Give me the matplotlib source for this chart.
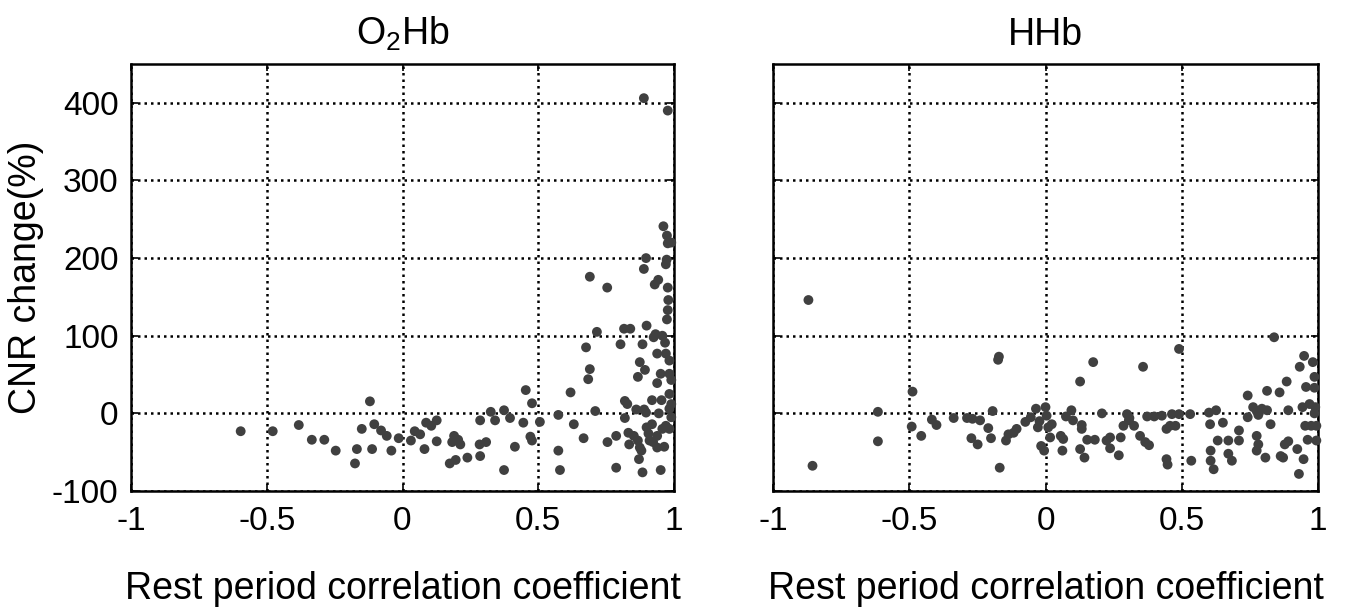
import matplotlib
matplotlib.use("Agg")
import matplotlib.pyplot as plt

plt.rcParams['font.family'] = ['Liberation Sans', 'DejaVu Sans']
plt.rcParams['axes.unicode_minus'] = False
plt.rcParams['mathtext.fontset'] = 'custom'
plt.rcParams['mathtext.rm'] = 'Liberation Sans'

o2hb_x = [-0.596, -0.478, -0.382, -0.334, -0.288, -0.246, -0.168, -0.175, -0.12, -0.150,
          -0.112, -0.104, -0.079, -0.058, -0.041, -0.014, 0.031, 0.045, 0.065, 0.081,
          0.087, 0.106, 0.126, 0.126, 0.190, 0.183, 0.213, 0.205, 0.174, 0.196,
          0.239, 0.284, 0.308, 0.286, 0.286, 0.325, 0.341, 0.374, 0.396, 0.374,
          0.414, 0.445, 0.454, 0.477, 0.471, 0.477, 0.506, 0.574, 0.574, 0.580,
          0.619, 0.631, 0.667, 0.676, 0.684, 0.690, 0.690, 0.710, 0.716, 0.754,
          0.755, 0.787, 0.787, 0.803, 0.816, 0.839, 0.819, 0.828, 0.819, 0.832,
          0.835, 0.861, 0.852, 0.867, 0.874, 0.871, 0.880, 0.867, 0.874, 0.884,
          0.893, 0.889, 0.889, 0.897, 0.899, 0.897, 0.899, 0.906, 0.910, 0.884,
          0.919, 0.923, 0.929, 0.942, 0.925, 0.932, 0.938, 0.938, 0.938, 0.944,
          0.951, 0.954, 0.961, 0.964, 0.967, 0.970, 0.974, 0.977, 0.977, 0.973,
          0.970, 0.977, 0.979, 0.977, 0.974, 0.983, 0.983, 0.983, 0.983, 0.983,
          0.970, 0.957, 0.990, 0.990, 0.990, 0.990, 0.951, 0.957, 0.919, 0.938, 0.890]
o2hb_y = [-23, -23, -15, -34, -34, -48, -46, -64.5, 15.5, -20,
          -46, -14, -22, -29, -48, -32, -35, -23, -27, -46,
          -12, -16, -9, -36, -29, -37, -40, -34, -64.5, -60,
          -57, -40, -37, -55, -9, 2, -9, 4, -6, -73,
          -43, -12, 30, 13, -30, -35, -11, -2, -48, -73,
          27, -14, -32, 85, 44, 57, 176, 3, 105, 162,
          -37, -29, -70, 89, 109, 109, 16, 12, -6, -25,
          -40, 5, -29, -35, -44, -59, -48, 47, 66, 89,
          56, 406, 186, 200, 113, 1, -18, -26, -35, -76,
          17, -37, 166, 172, 98, 102, 77, 39, -44, 0,
          -73, 17, 241, -43, 91, 77, 229, 390, 219, 198,
          192, 162, 146, 133, 121, 68, 51, 25, 6, -20,
          -16, -20, 220, 43, -5, 12, 51, 100, -14, -29, 5]

hhb_x = [-0.870, -0.855, -0.615, -0.615, -0.488, -0.491, -0.456, -0.417, -0.400, -0.337,
         -0.288, -0.268, -0.240, -0.272, -0.249, -0.210, -0.200, -0.194, -0.174, -0.171,
         -0.168, -0.145, -0.136, -0.117, -0.106, -0.074, -0.054, -0.035, -0.028, -0.022,
         -0.016, -0.005, 0.0, 0.004, 0.010, 0.017, 0.023, 0.056, 0.065, 0.062,
         0.075, 0.095, 0.101, 0.127, 0.133, 0.133, 0.127, 0.143, 0.153, 0.175,
         0.181, 0.207, 0.224, 0.237, 0.237, 0.269, 0.276, 0.286, 0.299, 0.308,
         0.325, 0.347, 0.358, 0.366, 0.373, 0.380, 0.427, 0.444, 0.444, 0.448,
         0.457, 0.464, 0.477, 0.490, 0.490, 0.531, 0.535, 0.600, 0.604, 0.606,
         0.606, 0.617, 0.626, 0.632, 0.651, 0.671, 0.671, 0.684, 0.710, 0.710,
         0.742, 0.742, 0.762, 0.775, 0.781, 0.775, 0.781, 0.775, 0.794, 0.807,
         0.813, 0.813, 0.826, 0.839, 0.859, 0.863, 0.872, 0.885, 0.891, 0.878,
         0.891, 0.924, 0.930, 0.933, 0.943, 0.947, 0.949, 0.953, 0.956, 0.962,
         0.969, 0.975, 0.981, 0.987, 0.987, 0.990, 0.994, 0.994, 0.987, 0.399, 0.306]
hhb_y = [146, -67.5, 2, -36, 28, -17, -29, -8, -15, -6,
         -6, -7, -9, -32, -40, -19, -32, 3, 69, 73,
         -70, -35, -27, -25, -20, -11, -5, 6, -18, -10,
         -42, -48, 8, -3, -18, -31, -14, -29, -33, -48,
         -4, 4, -9, 41, -15, -20, -46, -57, -34, 66,
         -34, 0, -35, -31, -45, -54, -31, -16, -1, -6,
         -16, -29, 60, -37, -4, -41, -3, -20, -59, -66,
         -16, -1, -16, 83, -1, -1, -61, 1, -14, -48,
         -61, -72, 4, -35, -12, -35, -52, -61, -22, -35,
         23, -5, 8, 3, -2, -29, -40, -48, 6, -57,
         29, 4, -14, 98, 27, -55, -57, 41, 4, -40,
         -36, -46, -78, 60, 8, -59, 74, -16, 34, -34,
         12, -16, 66, 47, 33, 8, -16, -35, 0, -4, -9]

titles = ['O$_2$Hb', 'HHb']
xticks = [-1, -0.5, 0, 0.5, 1]
xticklabels = ['-1', '-0.5', '0', '0.5', '1']
yticks = [-100, 0, 100, 200, 300, 400]

fig = plt.figure(figsize=(13.55, 6.16), dpi=100)
ax1 = fig.add_axes([131/1355, 1 - 491/616, 543/1355, 427/616])
ax2 = fig.add_axes([773/1355, 1 - 491/616, 545/1355, 427/616])

for ax, xs, ys, title in [(ax1, o2hb_x, o2hb_y, titles[0]), (ax2, hhb_x, hhb_y, titles[1])]:
    ax.scatter(xs, ys, s=50, color='#404040', edgecolors='none', zorder=3, clip_on=False)
    ax.set_xlim(-1, 1)
    ax.set_ylim(-100, 450)
    ax.set_xticks(xticks)
    ax.set_xticklabels(xticklabels)
    ax.set_yticks(yticks)
    ax.grid(True, color='black', linestyle=(0, (1, 1.6)), linewidth=1.8)
    ax.set_axisbelow(True)
    for sp in ax.spines.values():
        sp.set_linewidth(1.8)
        sp.set_color('black')
    ax.tick_params(direction='in', length=5, width=1.2, labelsize=24,
                   top=True, right=True)
    ax.tick_params(axis='x', pad=11)
    ax.tick_params(axis='y', pad=9)
    ax.set_title(title, fontsize=27, pad=14)
    ax.set_xlabel('Rest period correlation coefficient', fontsize=27, labelpad=24)

ax1.set_ylabel('CNR change(%)', fontsize=27, labelpad=6)
ax2.tick_params(labelleft=False)

fig.savefig('out.png', dpi=100)
